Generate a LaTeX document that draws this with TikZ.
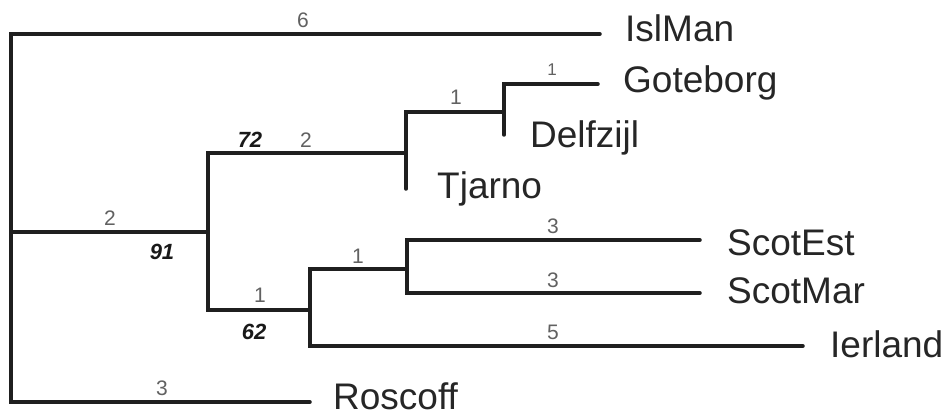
\documentclass[tikz,border=0pt]{standalone}
\usepackage{fontspec}
\setmainfont{Liberation Sans}
\begin{document}
\begin{tikzpicture}[x=1pt,y=-1pt,
  br/.style={draw=black!88,line width=3.5pt,line cap=round},
  leaf/.style={anchor=base west,inner sep=0pt,text=black!85,font=\fontsize{37}{37}\selectfont},
  blen/.style={inner sep=0pt,text=black!62,font=\fontsize{21}{21}\selectfont},
  boot/.style={inner sep=0pt,text=black!90,font=\fontsize{22}{22}\selectfont\itshape\bfseries}]
\useasboundingbox[fill=white] (0,0) rectangle (945,417);
% internal nodes
\coordinate (r) at (11,232);
\coordinate (A) at (208,232);
\coordinate (B) at (406,153);
\coordinate (C) at (504,112);
\coordinate (D) at (310,310);
\coordinate (E) at (407,269);
% tips
\coordinate (tIsl) at (600,34);
\coordinate (tGot) at (598,84);
\coordinate (tDel) at (504,135);
\coordinate (tTja) at (406,189);
\coordinate (tSE) at (700,240);
\coordinate (tSM) at (700,293);
\coordinate (tIe) at (803,346);
\coordinate (tRo) at (310,402);
% branches
\draw[br] (r) |- (tIsl);
\draw[br] (r) |- (tRo);
\draw[br] (r) -- (A);
\draw[br] (A) |- (B);
\draw[br] (A) |- (D);
\draw[br] (B) |- (C);
\draw[br] (B) -- (tTja);
\draw[br] (C) |- (tGot);
\draw[br] (C) -- (tDel);
\draw[br] (D) |- (E);
\draw[br] (D) |- (tIe);
\draw[br] (E) |- (tSE);
\draw[br] (E) |- (tSM);
% leaf labels
\node[leaf] (nIsl) at (625,42) {IslMan};
\node[leaf] (nGot) at (623,93) {Goteborg};
\node[leaf] (nDel) at (530,147) {Delfzijl};
\node[leaf] (nTja) at (437,198) {Tjarno};
\node[leaf] (nSE) at (727,255) {ScotEst};
\node[leaf] (nSM) at (727,303) {ScotMar};
\node[leaf] (nIe) at (830,357) {Ierland};
\node[leaf] (nRo) at (333,409) {Roscoff};
% branch lengths
\node[blen] (l6) at (303,20) {6};
\node[blen,font=\fontsize{17}{17}\selectfont] (l1g) at (552,70) {1};
\node[blen] (l1c) at (456,97) {1};
\node[blen] (l2b) at (306,140) {2};
\node[blen] (l2a) at (110,218) {2};
\node[blen] (l1d) at (260,295) {1};
\node[blen] (l1e) at (358,256) {1};
\node[blen] (l3se) at (553,226) {3};
\node[blen] (l3sm) at (553,280) {3};
\node[blen] (l5) at (553,332) {5};
\node[blen] (l3ro) at (162,388) {3};
% bootstrap values
\node[boot] (b72) at (250,140) {72};
\node[boot] (b91) at (162,252) {91};
\node[boot] (b62) at (254,332) {62};
\end{tikzpicture}
\end{document}
